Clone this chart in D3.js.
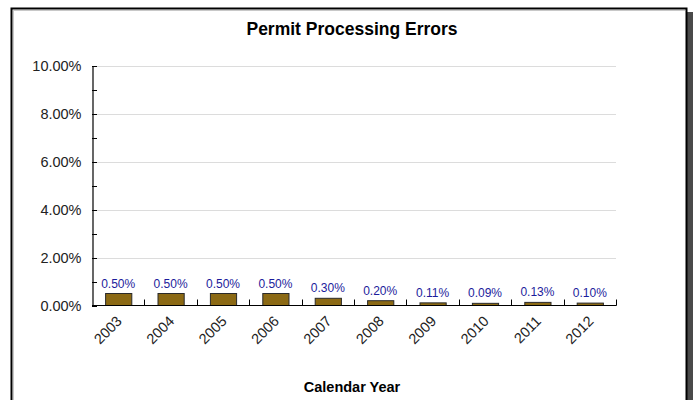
<!DOCTYPE html>
<html>
<head>
<meta charset="utf-8">
<script src="https://cdn.jsdelivr.net/npm/d3@7"></script>
<style>
  html, body { margin: 0; padding: 0; background: #fff; }
  svg { display: block; font-family: "Liberation Sans", Arial, sans-serif; }
</style>
</head>
<body>
<svg id="chart" width="693" height="400"></svg>
<script>
// Permit processing error rate by calendar year
const years = ["2003", "2004", "2005", "2006", "2007", "2008", "2009", "2010", "2011", "2012"];
const errorRates = [0.50, 0.50, 0.50, 0.50, 0.30, 0.20, 0.11, 0.09, 0.13, 0.10];
const yMajorTicks = [0, 2, 4, 6, 8, 10];
const yMinorTicks = [1, 3, 5, 7, 9];

const svg = d3.select("#chart");
const W = 693, H = 400;

// panel frame with drop shadow on the right
svg.append("rect").attr("x", 687).attr("y", 12).attr("width", 6).attr("height", H - 12).attr("fill", "#4a4a4a");
svg.append("rect").attr("x", 11.5).attr("y", 8.5).attr("width", 675).attr("height", H).attr("fill", "#fff")
  .attr("stroke", "#000").attr("stroke-width", 2);
svg.append("line").attr("x1", 13).attr("x2", 685).attr("y1", 10.5).attr("y2", 10.5).attr("stroke", "#c8c8c8");
svg.append("line").attr("x1", 13.5).attr("x2", 13.5).attr("y1", 10).attr("y2", H).attr("stroke", "#c8c8c8");

const x0 = 92, x1 = 616, yTop = 65.5, yBot = 305.5;

const x = d3.scaleBand().domain(years).range([x0, x1]).paddingInner(0.5).paddingOuter(0.25);
const y = d3.scaleLinear().domain([0, 10]).range([yBot, yTop]);

// title
svg.append("text").attr("x", 352).attr("y", 35).attr("text-anchor", "middle")
  .attr("font-size", 17.5).attr("font-weight", "bold").attr("fill", "#000")
  .text("Permit Processing Errors");

// gridlines
svg.append("g").selectAll("line").data(yMajorTicks.filter(d => d > 0)).join("line")
  .attr("x1", x0).attr("x2", x1)
  .attr("y1", d => Math.round(y(d)) + 0.5).attr("y2", d => Math.round(y(d)) + 0.5)
  .attr("stroke", "#dcdcdc");

// y axis
const yAxis = d3.axisLeft(y).tickValues(yMajorTicks).tickSize(0).tickPadding(10)
  .tickFormat(d => d3.format(".2f")(d) + "%");
const gy = svg.append("g").attr("transform", `translate(${x0 + 0.5},0)`).call(yAxis);
gy.select(".domain").attr("stroke", "#000").attr("stroke-width", 1.2);
gy.selectAll(".tick text").attr("font-size", 14.5).attr("fill", "#222")
  .attr("font-family", "'Liberation Sans', Arial, sans-serif").attr("x", -11);
// major tick marks sit inside the axis, minor marks too
svg.append("g").selectAll("line").data(yMajorTicks.concat(yMinorTicks)).join("line")
  .attr("x1", x0).attr("x2", x0 + 5)
  .attr("y1", d => Math.round(y(d)) + 0.5).attr("y2", d => Math.round(y(d)) + 0.5)
  .attr("stroke", "#000");

// bars
svg.append("g").selectAll("rect").data(years).join("rect")
  .attr("x", d => x(d) + 0.5)
  .attr("y", (d, i) => y(errorRates[i]))
  .attr("width", x.bandwidth())
  .attr("height", (d, i) => yBot - y(errorRates[i]))
  .attr("fill", "#8b6914").attr("stroke", "#2a2a2a").attr("stroke-width", 1);

// value labels
svg.append("g").selectAll("text").data(years).join("text")
  .attr("x", d => x(d) + x.bandwidth() / 2)
  .attr("y", (d, i) => y(errorRates[i]) - 6)
  .attr("text-anchor", "middle").attr("font-size", 12).attr("fill", "#1c1c9c")
  .text((d, i) => d3.format(".2f")(errorRates[i]) + "%");

// x axis baseline and category separators
const step = (x1 - x0) / years.length;
svg.append("line").attr("x1", x0).attr("x2", x1 + 0.5).attr("y1", yBot).attr("y2", yBot)
  .attr("stroke", "#000").attr("stroke-width", 1.2);
svg.append("g").selectAll("line").data(d3.range(1, years.length + 1)).join("line")
  .attr("x1", i => Math.round(x0 + i * step) + 0.5).attr("x2", i => Math.round(x0 + i * step) + 0.5)
  .attr("y1", yBot).attr("y2", yBot - 6).attr("stroke", "#000");

// rotated year labels
svg.append("g").selectAll("text").data(years).join("text")
  .attr("transform", d => `translate(${x(d) + x.bandwidth() / 2 + 1},${yBot + 13}) rotate(-45)`)
  .attr("text-anchor", "end").attr("font-size", 14.5).attr("fill", "#222")
  .attr("dy", "0.35em")
  .text(d => d);

// x axis title
svg.append("text").attr("x", 352).attr("y", 392).attr("text-anchor", "middle")
  .attr("font-size", 14.5).attr("font-weight", "bold").attr("fill", "#000")
  .text("Calendar Year");
</script>
</body>
</html>
